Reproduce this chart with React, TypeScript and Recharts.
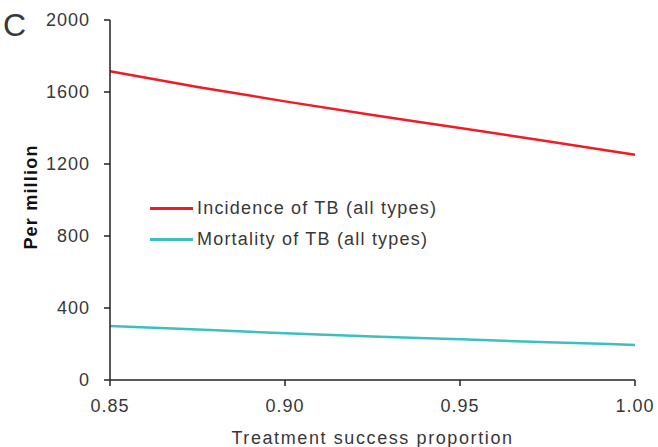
import { LineChart, Line, XAxis, YAxis, Label } from 'recharts';

const proportions = [0.85, 0.875, 0.9, 0.925, 0.95, 0.975, 1.0];
const incidence = [1715, 1628, 1548, 1472, 1400, 1326, 1252];
const mortality = [300, 280, 260, 242, 226, 210, 195];
const xTicks = [0.85, 0.9, 0.95, 1.0];
const yTicks = [0, 400, 800, 1200, 1600, 2000];

const data = proportions.map((p, i) => ({ p, incidence: incidence[i], mortality: mortality[i] }));

const FONT = '"Liberation Sans", Arial, Helvetica, sans-serif';
const TXT = '#383838';
const AXIS = '#222';
const RED = '#ee1c25';
const CYAN = '#3cbfbf';

const series = [
  { key: 'incidence', name: 'Incidence of TB (all types)', color: RED },
  { key: 'mortality', name: 'Mortality of TB (all types)', color: CYAN },
];

// legend sits inside the plot area, so it is drawn over the chart instead of taking layout space
const LegendBox = () => (
  <div style={{ position: 'absolute', left: 150, top: 193, fontFamily: FONT, fontSize: 18, color: TXT, letterSpacing: 1.2 }}>
    {series.map((s) => (
      <div key={s.key} style={{ display: 'flex', alignItems: 'center', height: 31 }}>
        <span style={{ display: 'inline-block', width: 43, height: 3, background: s.color, marginRight: 4 }} />
        {s.name}
      </div>
    ))}
  </div>
);

const tickStyle = { fill: TXT, fontSize: 18, fontFamily: FONT, letterSpacing: 1 };

export default function App() {
  return (
    <div style={{ position: 'fixed', left: 0, top: 0, width: 658, height: 447, background: '#fff' }}>
      <LineChart width={658} height={447} data={data} margin={{ top: 20, right: 23, bottom: 0, left: 0 }}>
        <XAxis
          dataKey="p"
          type="number"
          domain={[0.85, 1.0]}
          ticks={xTicks}
          tickFormatter={(v: number) => v.toFixed(2)}
          height={67}
          tickSize={6}
          tickMargin={13}
          stroke={AXIS}
          strokeWidth={1.5}
          tick={tickStyle}
        >
          <Label
            content={({ viewBox }: any) => (
              <text x={viewBox.x + viewBox.width / 2} y={viewBox.y + 64} textAnchor="middle" fill={TXT} fontSize={18} fontFamily={FONT} letterSpacing={1.6}>
                Treatment success proportion
              </text>
            )}
          />
        </XAxis>
        <YAxis
          type="number"
          domain={[0, 2000]}
          ticks={yTicks}
          width={110}
          tickSize={6}
          tickMargin={14}
          stroke={AXIS}
          strokeWidth={1.5}
          tick={tickStyle}
        >
          <Label
            content={({ viewBox }: any) => {
              const cx = viewBox.x + 31;
              const cy = viewBox.y + viewBox.height / 2 - 3;
              return (
                <text x={cx} y={cy} transform={`rotate(-90 ${cx} ${cy})`} textAnchor="middle" dominantBaseline="central" fill="#111" fontSize={18} fontWeight="bold" fontFamily={FONT} letterSpacing={1.2}>
                  Per million
                </text>
              );
            }}
          />
        </YAxis>
        {series.map((s) => (
          <Line key={s.key} type="monotone" dataKey={s.key} name={s.name} stroke={s.color} strokeWidth={2.5} dot={false} isAnimationActive={false} />
        ))}
      </LineChart>
      <div style={{ position: 'absolute', left: 3, top: 9, fontFamily: FONT, fontSize: 32, color: TXT, lineHeight: 1 }}>C</div>
      <LegendBox />
    </div>
  );
}
